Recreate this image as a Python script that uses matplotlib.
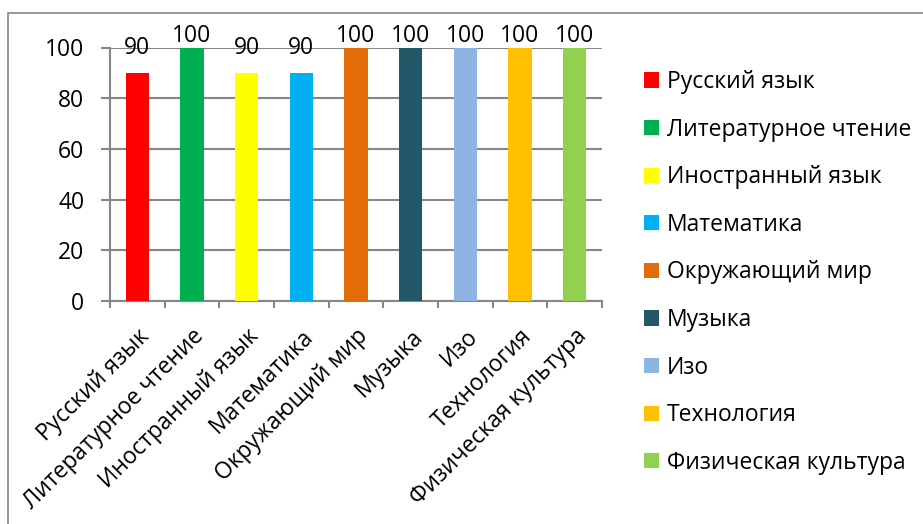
import matplotlib
matplotlib.use("Agg")
import matplotlib.pyplot as plt
from matplotlib.patches import Rectangle

plt.rcParams['font.family'] = ['Open Sans', 'DejaVu Sans']

subjects = ['Русский язык', 'Литературное чтение', 'Иностранный язык', 'Математика',
            'Окружающий мир', 'Музыка', 'Изо', 'Технология', 'Физическая культура']
scores = [90, 100, 90, 90, 100, 100, 100, 100, 100]
colors = ['#FF0000', '#00B050', '#FFFF00', '#00B0F0', '#E36C09',
          '#215968', '#8DB4E2', '#FFC000', '#92D050']
yticks = [0, 20, 40, 60, 80, 100]

W, H = 923, 524
fig = plt.figure(figsize=(W / 100, H / 100), dpi=100)
grid_col = '#868686'
fs = 16.5

# outer chart border
fig.patches.append(Rectangle((8 / W, -0.1), 1.2, (H - 13) / H + 0.1, transform=fig.transFigure,
                             fill=False, edgecolor=grid_col, linewidth=1.2))

ax = fig.add_axes([110 / W, (H - 301) / H, 492 / W, 253.5 / H])
x = list(range(len(subjects)))
for i, (name, val, col) in enumerate(zip(subjects, scores, colors)):
    bars = ax.bar(i, val, width=0.43, color=col, label=name, zorder=3)
    ax.bar_label(bars, padding=9 if val < 100 else 0, fontsize=fs)

ax.set_xlim(-0.5, len(subjects) - 0.5)
ax.set_ylim(0, 100)
ax.set_yticks(yticks)
ax.yaxis.grid(True, color=grid_col, linewidth=1.5, zorder=0)
ax.set_axisbelow(True)
for s in ['top', 'right']:
    ax.spines[s].set_visible(False)
for s in ['left', 'bottom']:
    ax.spines[s].set_color(grid_col)
    ax.spines[s].set_linewidth(1.5)
ax.tick_params(axis='y', length=6.5, width=1.5, color=grid_col, pad=12, labelsize=fs)

ax.set_xticks(x)
ax.set_xticklabels(subjects, rotation=45, ha='right', va='top', rotation_mode='anchor', fontsize=fs)
ax.tick_params(axis='x', which='major', length=0, pad=17)
ax.set_xticks([i - 0.5 for i in range(len(subjects) + 1)], minor=True)
ax.tick_params(axis='x', which='minor', length=5, width=1.5, color=grid_col)

fig.legend(loc='upper left', bbox_to_anchor=(644 / W, (H - 70) / H), frameon=False,
           fontsize=fs, handlelength=0.65, handleheight=0.65, handletextpad=0.35,
           labelspacing=1.03, borderpad=0, borderaxespad=0)

fig.savefig('out.png', dpi=100)
